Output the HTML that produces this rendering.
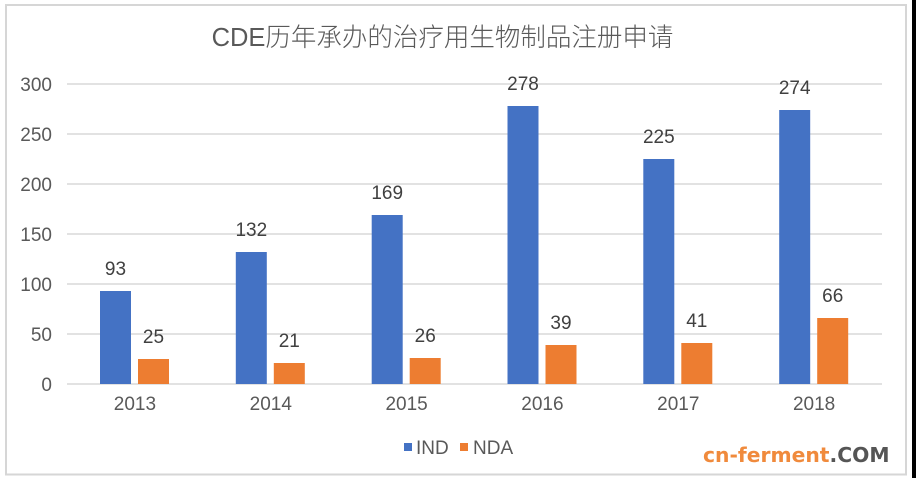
<!DOCTYPE html>
<html>
<head>
<meta charset="utf-8">
<style>
html,body{margin:0;padding:0;background:#fff;}
body{width:916px;height:478px;overflow:hidden;}
svg{display:block;}
text{font-family:"Liberation Sans","Noto Sans CJK SC",sans-serif;}
</style>
</head>
<body>
<svg width="916" height="478" viewBox="0 0 916 478" xmlns="http://www.w3.org/2000/svg">
  <rect x="0" y="0" width="916" height="478" fill="#ffffff"/>
  <rect x="912" y="0" width="4" height="478" fill="#000000"/>
  <rect x="6" y="5" width="900" height="469.5" fill="#ffffff" stroke="#d6d6d6" stroke-width="2"/>

  <text x="442.5" y="46" text-anchor="middle" font-size="25.5" font-weight="300" fill="#595959">CDE历年承办的治疗用生物制品注册申请</text>

  <g stroke="#d9d9d9" stroke-width="1.5">
    <line x1="67" y1="84" x2="882" y2="84"/>
    <line x1="67" y1="134" x2="882" y2="134"/>
    <line x1="67" y1="184" x2="882" y2="184"/>
    <line x1="67" y1="234" x2="882" y2="234"/>
    <line x1="67" y1="284" x2="882" y2="284"/>
    <line x1="67" y1="334" x2="882" y2="334"/>
    <line x1="67" y1="384" x2="882" y2="384"/>
  </g>

  <g font-size="19" fill="#595959" text-anchor="end">
    <text x="52" y="90.8">300</text>
    <text x="52" y="140.8">250</text>
    <text x="52" y="190.8">200</text>
    <text x="52" y="240.8">150</text>
    <text x="52" y="290.8">100</text>
    <text x="52" y="340.8">50</text>
    <text x="52" y="390.8">0</text>
  </g>

  <g fill="#4472C4">
    <rect x="100" y="291" width="31" height="93"/>
    <rect x="235.8" y="252" width="31" height="132"/>
    <rect x="371.7" y="215" width="31" height="169"/>
    <rect x="507.5" y="106" width="31" height="278"/>
    <rect x="643.3" y="159" width="31" height="225"/>
    <rect x="779.2" y="110" width="31" height="274"/>
  </g>
  <g fill="#ED7D31">
    <rect x="138" y="359" width="31" height="25"/>
    <rect x="273.8" y="363" width="31" height="21"/>
    <rect x="409.7" y="358" width="31" height="26"/>
    <rect x="545.5" y="345" width="31" height="39"/>
    <rect x="681.3" y="343" width="31" height="41"/>
    <rect x="817.2" y="318" width="31" height="66"/>
  </g>

  <g font-size="19" fill="#404040" text-anchor="middle">
    <text x="115.5" y="274.8">93</text>
    <text x="251.3" y="235.8">132</text>
    <text x="387.2" y="198.8">169</text>
    <text x="523" y="89.8">278</text>
    <text x="658.8" y="142.8">225</text>
    <text x="794.7" y="93.8">274</text>
    <text x="153.5" y="342.8">25</text>
    <text x="289.3" y="346.8">21</text>
    <text x="425.2" y="341.8">26</text>
    <text x="561" y="328.8">39</text>
    <text x="696.8" y="326.8">41</text>
    <text x="832.7" y="301.8">66</text>
  </g>

  <g font-size="19" fill="#595959" text-anchor="middle">
    <text x="134.9" y="409.8">2013</text>
    <text x="270.8" y="409.8">2014</text>
    <text x="406.6" y="409.8">2015</text>
    <text x="542.4" y="409.8">2016</text>
    <text x="678.3" y="409.8">2017</text>
    <text x="814.1" y="409.8">2018</text>
  </g>

  <rect x="404" y="443" width="8" height="8" fill="#4472C4"/>
  <text x="416" y="453.8" font-size="19" fill="#595959">IND</text>
  <rect x="460" y="443" width="8" height="8" fill="#ED7D31"/>
  <text x="473" y="453.8" font-size="19" fill="#595959">NDA</text>

  <text x="703" y="462" font-size="20.3" font-weight="bold" style="font-family:'DejaVu Sans',sans-serif"><tspan fill="#F08A3C">cn-ferment</tspan><tspan fill="#555555">.COM</tspan></text>
</svg>
</body>
</html>
